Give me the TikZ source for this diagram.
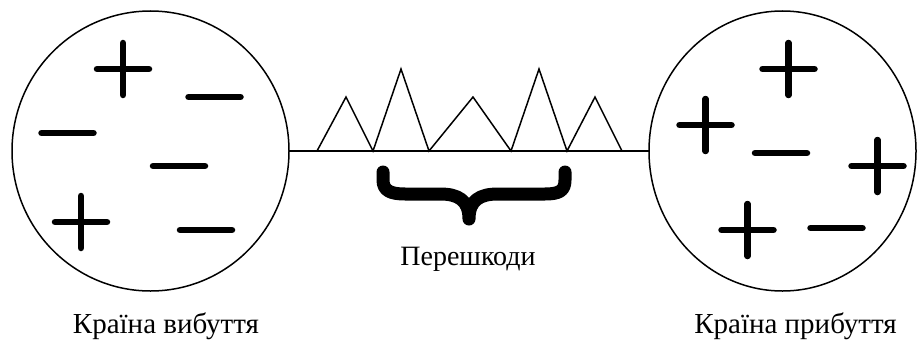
\documentclass[tikz,border=0pt]{standalone}
\usepackage{fontspec}
\setmainfont{Liberation Serif}
\usetikzlibrary{shapes.geometric}
\tikzset{
  country/.style={ellipse, draw, line width=1.5pt, inner sep=0pt, outer sep=0pt},
  sign/.style={line width=6.5pt, line cap=round},
  thin/.style={line width=1.5pt, line join=miter},
  lbl/.style={font=\fontsize{29}{32}\selectfont, anchor=base, inner sep=0pt},
  pics/plussign/.style={code={\draw[sign] (-26,0) -- (26,0); \draw[sign] (0,-26) -- (0,26);}},
  pics/minussign/.style={code={\draw[sign] (-26,0) -- (26,0);}}
}
\begin{document}
\begin{tikzpicture}[x=1pt,y=-1pt]
\useasboundingbox (0,0) rectangle (917,345);
% countries
\node[country, minimum width=277pt, minimum height=280pt] (L) at (150.5,151) {};
\node[country, minimum width=267pt, minimum height=280pt] (R) at (782.5,151) {};
\draw[thin] (L.east) -- (R.west);
% obstacles
\draw[thin] (317,151) -- (346,97) -- (373,151) -- (401,69) -- (429,151) -- (473,97)
  -- (511,151) -- (539,69) -- (567,151) -- (595,97) -- (622,151);
% brace
\draw[line width=13pt, line cap=round, line join=round]
  (383,172) -- (383,180) .. controls (383,191) and (391,194) .. (405,194) -- (440,194)
  .. controls (458,194) and (469,200) .. (469,219)
  .. controls (469,200) and (480,194) .. (498,194) -- (545,194)
  .. controls (559,194) and (565,191) .. (565,180) -- (565,172);
% left signs
\pic at (123,69) {plussign};
\pic at (214.5,97) {minussign};
\pic at (67.5,133) {minussign};
\pic at (179,166) {minussign};
\pic at (81,222) {plussign};
\pic at (206,230) {minussign};
% right signs
\pic at (788.5,69) {plussign};
\pic at (705.5,125) {plussign};
\pic at (781,153) {minussign};
\pic at (877.5,166) {plussign};
\pic at (747.5,230) {plussign};
\pic at (836.5,228) {minussign};
% labels
\node[lbl] (t1) at (166,333) {Країна вибуття};
\node[lbl] (t2) at (795.5,333) {Країна прибуття};
\node[lbl, font=\fontsize{28}{31}\selectfont] (t3) at (468,265) {Перешкоди};
\end{tikzpicture}
\end{document}
